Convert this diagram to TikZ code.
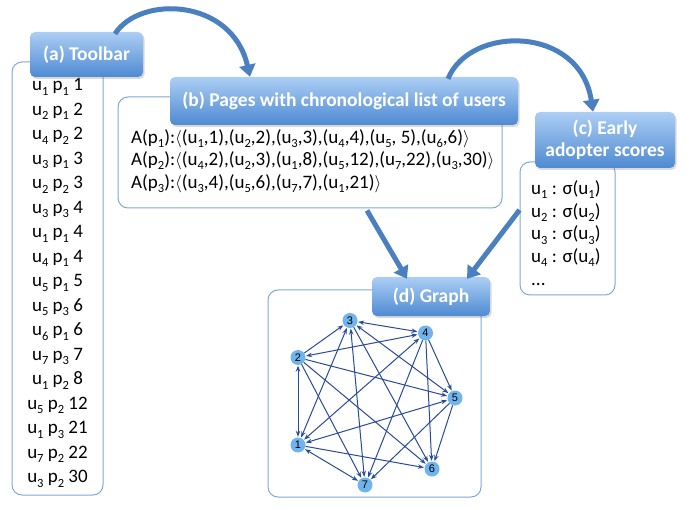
\documentclass[tikz,border=0pt]{standalone}
\usepackage{fontspec}
\setmainfont{Carlito}
\newfontfamily\arialf{Liberation Sans}
\usetikzlibrary{arrows.meta,shadows}
\definecolor{tbtop}{RGB}{172,206,244}
\definecolor{tbbot}{RGB}{78,138,210}
\definecolor{arr}{RGB}{74,128,192}
\definecolor{bord}{RGB}{130,168,215}
\definecolor{edgec}{RGB}{40,75,155}
\definecolor{gnode}{RGB}{112,180,238}
\newcommand\lo[1]{\raisebox{-4.2pt}{\fontsize{12.5}{12.5}\selectfont #1}}
\begin{document}
\begin{tikzpicture}[x=1pt,y=-1pt,
  titlebox/.style={draw=none, rounded corners=5pt, top color=tbtop, bottom color=tbbot,
    text=white, font=\fontsize{19.5}{22}\selectfont\bfseries, align=center, inner sep=0pt,
    drop shadow={shadow xshift=1.5pt, shadow yshift=-2pt, opacity=0.3}},
  contentbox/.style={draw=bord, line width=1pt, rounded corners=10pt, fill=white, inner sep=0pt},
  listtext/.style={font=\fontsize{19}{24.5}\selectfont, inner sep=0pt},
  bigarrow/.style={draw=arr, line width=5pt, -{Triangle[length=12pt,width=16pt]}},
  gnodes/.style={circle, fill=gnode, minimum size=15pt, inner sep=0pt, font=\arialf\fontsize{11}{11}\selectfont},
  gedge/.style={draw=edgec, line width=1pt, -{Stealth[length=6pt,width=4.5pt]}, shorten >=0.5pt},
  gbi/.style={draw=edgec, line width=1pt, {Stealth[length=6pt,width=4.5pt]}-{Stealth[length=6pt,width=4.5pt]}, shorten >=0.5pt, shorten <=0.5pt}]
\useasboundingbox (0,0) rectangle (690,510);

% content boxes
\node[contentbox, minimum width=91pt, minimum height=433pt] (abox) at (57.5,278.5) {};
\node[contentbox, minimum width=384pt, minimum height=111pt] (bbox) at (310,152.5) {};
\node[contentbox, minimum width=95pt, minimum height=133pt] (cbox) at (567.5,228.5) {};
\node[contentbox, minimum width=213pt, minimum height=207pt] (dbox) at (374.5,393.5) {};

% texts
\node[listtext, align=center] (atext) at (57.5,283) {%
u\lo1 p\lo1 1\\ u\lo2 p\lo1 2\\ u\lo4 p\lo2 2\\ u\lo3 p\lo1 3\\ u\lo2 p\lo2 3\\
u\lo3 p\lo3 4\\ u\lo1 p\lo1 4\\ u\lo4 p\lo1 4\\ u\lo5 p\lo1 5\\ u\lo5 p\lo3 6\\
u\lo6 p\lo1 6\\ u\lo7 p\lo3 7\\ u\lo1 p\lo2 8\\ u\lo5 p\lo2 12\\ u\lo1 p\lo3 21\\
u\lo7 p\lo2 22\\ u\lo3 p\lo2 30};
\node[listtext, font=\fontsize{19}{22.5}\selectfont, align=left, anchor=west] (btext) at (131,161) {%
A(p\lo1):$\langle$(u\lo1,1),(u\lo2,2),(u\lo3,3),(u\lo4,4),(u\lo5, 5),(u\lo6,6)$\rangle$\\
A(p\lo2):$\langle$(u\lo4,2),(u\lo2,3),(u\lo1,8),(u\lo5,12),(u\lo7,22),(u\lo3,30)$\rangle$\\
A(p\lo3):$\langle$(u\lo3,4),(u\lo5,6),(u\lo7,7),(u\lo1,21)$\rangle$};
\node[listtext, font=\fontsize{19}{22.7}\selectfont, align=left, anchor=west] (ctext) at (531,233) {%
u\lo1 : σ(u\lo1)\\ u\lo2 : σ(u\lo2)\\ u\lo3 : σ(u\lo3)\\ u\lo4 : σ(u\lo4)\\ ...};

% title boxes
\node[titlebox, minimum width=113pt, minimum height=45pt] (atitle) at (86.5,54.5) {(a) Toolbar};
\node[titlebox, minimum width=348pt, minimum height=48pt] (btitle) at (344,101) {(b) Pages with chronological list of users};
\node[titlebox, minimum width=140pt, minimum height=56pt, font=\fontsize{19.5}{21.5}\selectfont\bfseries] (ctitle) at (605,140) {(c) Early\\adopter scores};
\node[titlebox, minimum width=118pt, minimum height=39pt] (dtitle) at (431,296.5) {(d) Graph};

% big arrows
\draw[bigarrow] ([xshift=28.5pt,yshift=-2pt]atitle.north) .. controls (140,-5) and (232,-2) .. ([xshift=-94pt]btitle.north);
\draw[bigarrow] ([xshift=104pt,yshift=-2pt]btitle.north) .. controls (470,25) and (580,25) .. ([xshift=-12pt]ctitle.north);
\draw[bigarrow] ([xshift=57pt,yshift=-2pt]bbox.south) -- ([xshift=-24pt,yshift=-2pt]dtitle.north);
\draw[bigarrow] ([yshift=18.5pt]cbox.west) -- ([xshift=36pt,yshift=-2pt]dtitle.north);

% graph
\node[gnodes] (g3) at (350,320.5) {3};
\node[gnodes] (g4) at (425.5,333) {4};
\node[gnodes] (g2) at (298,357.5) {2};
\node[gnodes] (g5) at (455,398) {5};
\node[gnodes] (g1) at (298,445) {1};
\node[gnodes] (g6) at (432,469) {6};
\node[gnodes] (g7) at (365,485) {7};

\foreach \a/\b in {1/2,1/3,1/4,1/5,1/7,2/4,3/4,3/5,3/7}
  \draw[gbi] (g\a) -- (g\b);
\foreach \a/\b in {1/6,2/3,2/5,2/6,2/7,3/6,4/5,4/6,4/7,5/6,5/7}
  \draw[gedge] (g\a) -- (g\b);
\end{tikzpicture}
\end{document}
